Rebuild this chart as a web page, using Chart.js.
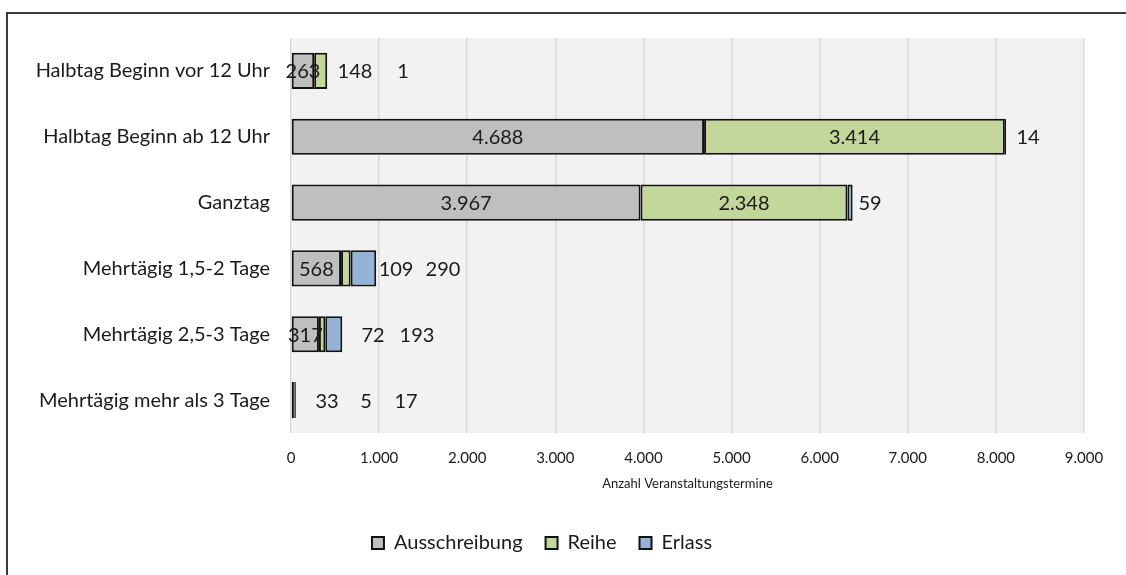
<!DOCTYPE html>
<html lang="de">
<head>
<meta charset="utf-8">
<script src="https://cdn.jsdelivr.net/npm/chart.js@4/dist/chart.umd.min.js"></script>
<style>
  html, body { margin: 0; padding: 0; background: #ffffff; }
  #wrap { position: relative; width: 1126px; height: 575px; overflow: hidden; }
  #frame { position: absolute; left: 6px; top: 12px; width: 1200px; height: 700px;
           border-left: 2px solid #3a3a3a; border-top: 2px solid #3a3a3a; }
  canvas { position: absolute; left: 0; top: 0; }
</style>
</head>
<body>
<div id="wrap">
  <div id="frame"></div>
  <canvas id="chart" width="1126" height="575"></canvas>
</div>
<script>
// Dauer der Veranstaltungen, je Kategorie
const categories = [
  'Halbtag Beginn vor 12 Uhr',
  'Halbtag Beginn ab 12 Uhr',
  'Ganztag',
  'Mehrtägig 1,5-2 Tage',
  'Mehrtägig 2,5-3 Tage',
  'Mehrtägig mehr als 3 Tage'
];
const ausschreibung = [263, 4688, 3967, 568, 317, 33];
const reihe         = [148, 3414, 2348, 109, 72, 5];
const erlass        = [1, 14, 59, 290, 193, 17];
const xTicks = [0, 1000, 2000, 3000, 4000, 5000, 6000, 7000, 8000, 9000];

// Beschriftungen, die nicht in das Segment passen, stehen rechts neben dem Balken
// (Angabe als Stelle auf der Werteachse; null = mittig im Segment)
const labelSpot = [
  [null, 726, 1271],
  [null, null, 8365],
  [null, null, 6572],
  [null, 1192, 1725],
  [null, 931, 1430],
  [409, 852, 1306]
];

const fontFamily = 'Lato, "Open Sans", "Noto Sans", sans-serif';
const fmt = v => String(v).replace(/\B(?=(\d{3})+(?!\d))/g, '.');

const plotBg = {
  id: 'plotBg',
  beforeDraw(chart) {
    const { ctx, chartArea: a } = chart;
    ctx.save();
    ctx.fillStyle = '#f2f2f2';
    ctx.fillRect(a.left, a.top, a.right - a.left, a.bottom - a.top);
    ctx.restore();
  }
};

const valueLabels = {
  id: 'valueLabels',
  afterDatasetsDraw(chart) {
    const { ctx } = chart;
    const xs = chart.scales.x;
    ctx.save();
    ctx.font = '20px ' + fontFamily;
    ctx.fillStyle = '#1a1a1a';
    ctx.textAlign = 'center';
    ctx.textBaseline = 'middle';
    chart.data.datasets.forEach((ds, di) => {
      const meta = chart.getDatasetMeta(di);
      meta.data.forEach((bar, i) => {
        const spot = labelSpot[i][di];
        const x = spot === null ? (bar.base + bar.x) / 2 : xs.getPixelForValue(spot);
        ctx.fillText(fmt(ds.data[i]), x, bar.y + 1);
      });
    });
    ctx.restore();
  }
};

new Chart(document.getElementById('chart'), {
  type: 'bar',
  data: {
    labels: categories,
    datasets: [
      { label: 'Ausschreibung', data: ausschreibung, backgroundColor: '#bfbfbf' },
      { label: 'Reihe', data: reihe, backgroundColor: '#c4d79b' },
      { label: 'Erlass', data: erlass, backgroundColor: '#95b3d7' }
    ].map(d => Object.assign(d, {
      borderColor: '#111111', borderWidth: 2, borderSkipped: false,
      categoryPercentage: 1, barPercentage: 0.55
    }))
  },
  options: {
    indexAxis: 'y',
    responsive: false,
    animation: false,
    layout: { padding: { top: 38, right: 42, left: 0, bottom: 12 } },
    scales: {
      x: {
        stacked: true,
        min: 0, max: 9000,
        afterBuildTicks(s) { s.ticks = xTicks.map(v => ({ value: v })); },
        afterFit(s) { s.height = 77; },
        grid: { color: '#d9d9d9', lineWidth: 1.5, drawTicks: false },
        border: { display: false },
        ticks: {
          padding: 16,
          color: '#1a1a1a',
          font: { family: fontFamily, size: 15 },
          callback: v => fmt(v)
        },
        title: {
          display: true,
          text: 'Anzahl Veranstaltungstermine',
          color: '#1a1a1a',
          font: { family: fontFamily, size: 13 },
          padding: { top: 8, bottom: 18 }
        }
      },
      y: {
        stacked: true,
        afterFit(s) { s.width = 291; },
        grid: { display: false },
        border: { display: false },
        ticks: {
          padding: 13,
          color: '#1a1a1a',
          font: { family: fontFamily, size: 20 }
        }
      }
    },
    plugins: {
      legend: {
        position: 'bottom',
        labels: {
          color: '#1a1a1a',
          font: { family: fontFamily, size: 20 },
          boxWidth: 12, boxHeight: 12,
          padding: 23,
          generateLabels(chart) {
            return chart.data.datasets.map((ds, i) => ({
              text: ds.label, fillStyle: ds.backgroundColor, strokeStyle: '#111111',
              lineWidth: 2, datasetIndex: i, fontColor: '#1a1a1a'
            }));
          }
        }
      },
      tooltip: { enabled: false }
    }
  },
  plugins: [plotBg, valueLabels]
});
</script>
</body>
</html>
